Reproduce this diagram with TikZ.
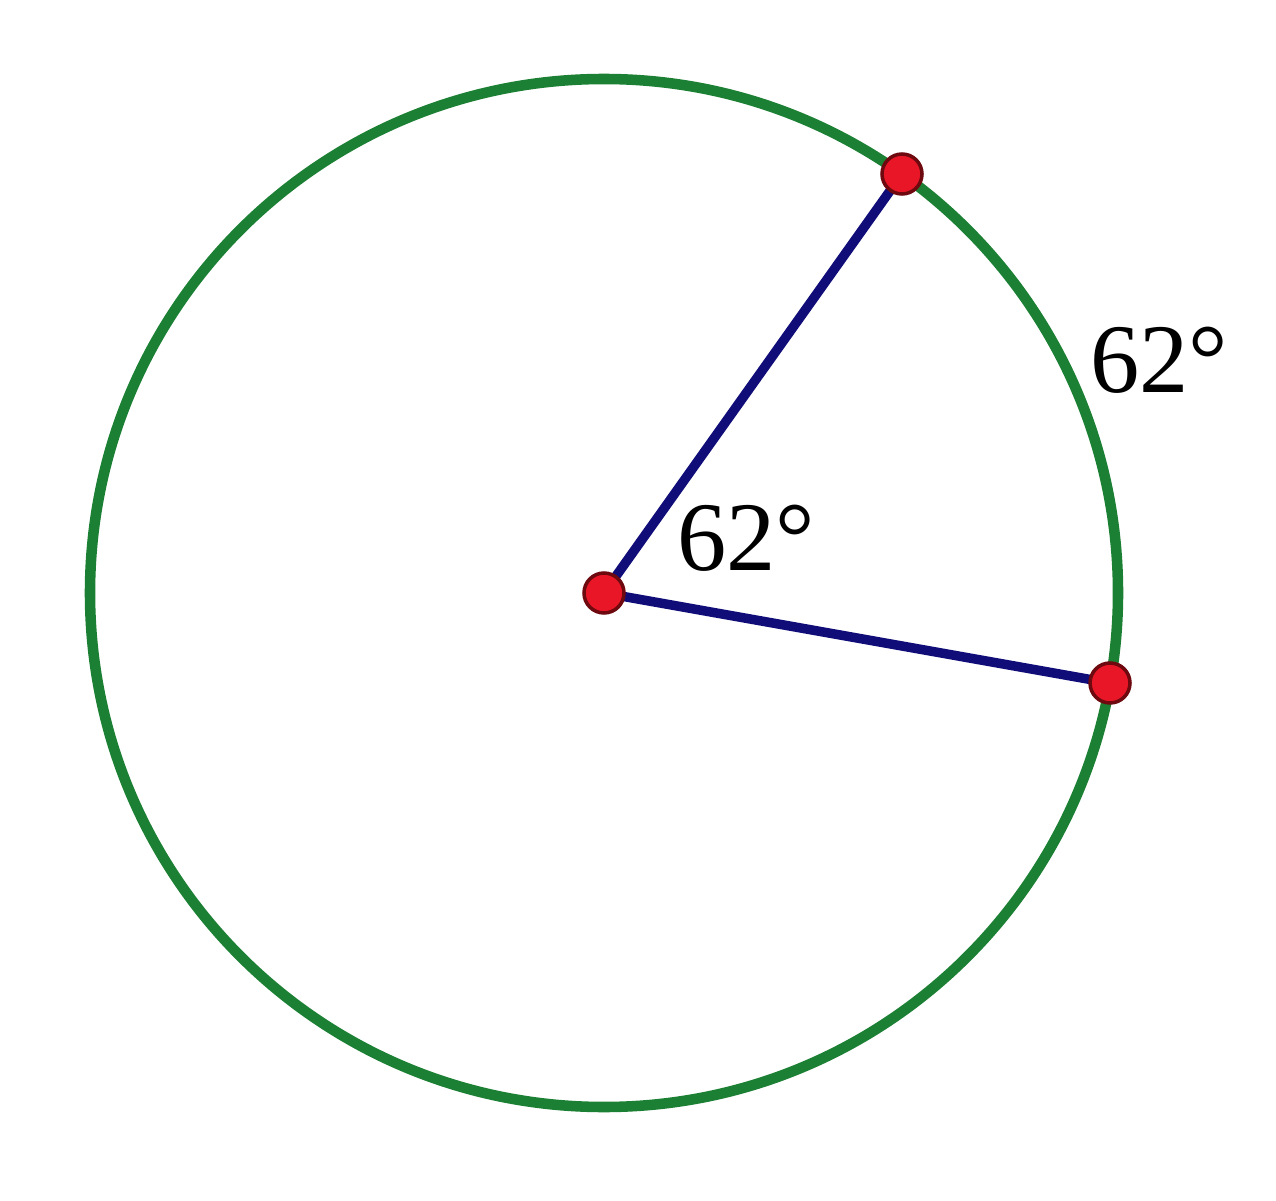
\documentclass[tikz,border=0pt]{standalone}
\usepackage{fontspec}
\setmainfont{Liberation Serif}
\definecolor{circgreen}{RGB}{28,128,52}
\definecolor{segblue}{RGB}{16,12,120}
\definecolor{dotred}{RGB}{232,22,38}
\definecolor{dotrim}{RGB}{110,10,15}
\tikzset{
	pt/.style={fill=dotred, draw=dotrim, line width=1pt},
	lbl/.style={font=\fontsize{28}{32}\selectfont, inner sep=0pt}
}
\begin{document}
\begin{tikzpicture}
	\useasboundingbox (0,0) rectangle (12.76,12);
	%centre and points on the circle
	\coordinate (O) at (6.04,6.07);
	\coordinate (A) at (9.02,10.26);
	\coordinate (B) at (11.10,5.17);
	%circle
	\draw[circgreen, line width=3pt] (O) circle (5.14);
	%radii
	\draw[segblue, line width=2.7pt] (A)--(O)--(B);
	%points
	\filldraw[pt] (O) circle (0.2);
	\filldraw[pt] (A) circle (0.2);
	\filldraw[pt] (B) circle (0.2);
	%angle and arc labels
	\node[lbl] (angle) at (7.46,6.62) {62°};
	\node[lbl] (arc) at (11.59,8.40) {62°};
\end{tikzpicture}
\end{document}
